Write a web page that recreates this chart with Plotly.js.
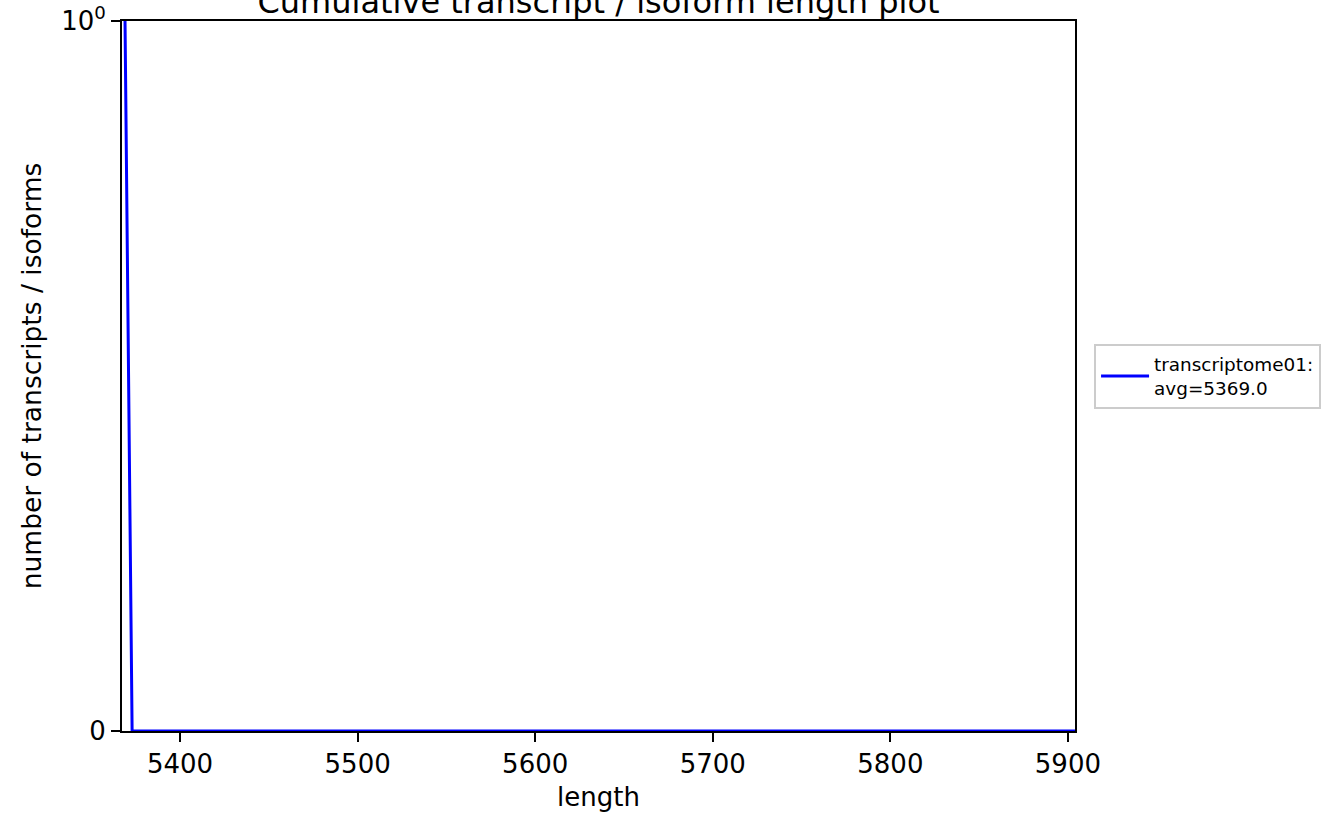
<!DOCTYPE html>
<html>
<head>
<meta charset="utf-8">
<script src="https://cdn.plot.ly/plotly-3.0.1.min.js"></script>
<style>html,body{margin:0;padding:0;background:#fff;}#chart{width:1323px;height:815px;}</style>
</head>
<body>
<div id="chart"></div>
<script>
// Data
const lengths = [5369, 5373, 5904];
const counts = [1, 0, 0];
const seriesName = "transcriptome01:<br>avg=5369.0";
const xTickVals = [5400, 5500, 5600, 5700, 5800, 5900];
const xTickText = ["5400", "5500", "5600", "5700", "5800", "5900"];
const yTickVals = [0, 1];
const yTickText = ["0", "10<sup>0</sup>"];

const font = "DejaVu Sans, sans-serif";

const trace = {
  x: lengths,
  y: counts,
  type: "scatter",
  mode: "lines",
  name: seriesName,
  line: {color: "#0000ff", width: 3},
  showlegend: true
};

const layout = {
  width: 1323,
  height: 815,
  margin: {l: 122, r: 248, t: 21, b: 84, autoexpand: false},
  paper_bgcolor: "#ffffff",
  plot_bgcolor: "#ffffff",
  font: {family: font, color: "#000000", size: 26},
  title: {
    text: "Cumulative transcript / isoform length plot",
    font: {family: font, size: 32, color: "#000"},
    x: 0.4524, xref: "container", xanchor: "center",
    y: 1 - 13/815, yref: "container", yanchor: "bottom"
  },
  xaxis: {
    range: [5367.3, 5904],
    tickvals: xTickVals,
    ticktext: xTickText,
    ticks: "outside",
    ticklen: 9,
    tickwidth: 2,
    tickcolor: "#000",
    showline: true,
    linecolor: "#000",
    linewidth: 2,
    mirror: true,
    showgrid: false,
    zeroline: false,
    automargin: false,
    tickfont: {family: font, size: 26, color: "#000"},
    title: {text: "length", font: {family: font, size: 26, color: "#000"}, standoff: 10}
  },
  yaxis: {
    range: [0, 1],
    tickvals: yTickVals,
    ticktext: yTickText,
    ticks: "outside",
    ticklen: 9,
    tickwidth: 2,
    tickcolor: "#000",
    showline: true,
    linecolor: "#000",
    linewidth: 2,
    mirror: true,
    showgrid: false,
    zeroline: false,
    automargin: false,
    tickfont: {family: font, size: 26, color: "#000"},
    title: {text: "number of transcripts / isoforms", font: {family: font, size: 26.5, color: "#000"}, standoff: 12}
  },
  legend: {
    x: 1.02, xanchor: "left",
    y: 0.5, yanchor: "middle",
    bgcolor: "#ffffff",
    bordercolor: "#cccccc",
    borderwidth: 2,
    itemwidth: 48,
    font: {family: font, size: 18.4, color: "#000"}
  }
};

Plotly.newPlot("chart", [trace], layout, {displayModeBar: false, staticPlot: true});
</script>
</body>
</html>
